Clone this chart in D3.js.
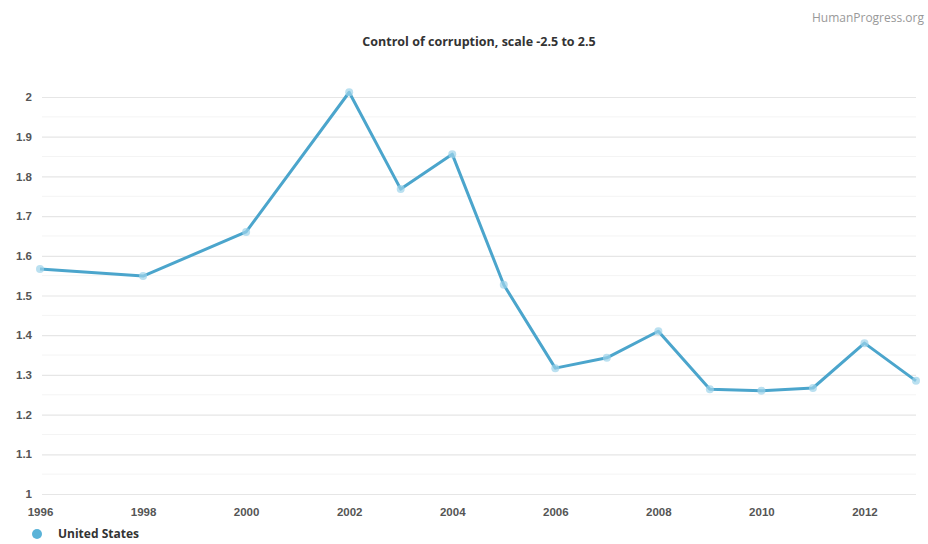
<!DOCTYPE html>
<html>
<head>
<meta charset="utf-8">
<script src="https://cdn.jsdelivr.net/npm/d3@7"></script>
<style>
  html, body { margin: 0; padding: 0; background: #fff; }
  svg { display: block; font-family: "Open Sans", sans-serif; }
</style>
</head>
<body>
<svg id="chart" width="928" height="544"></svg>
<script>
const years = [1996, 1998, 2000, 2002, 2003, 2004, 2005, 2006, 2007, 2008, 2009, 2010, 2011, 2012, 2013];
const values = [1.567, 1.549, 1.66, 2.012, 1.768, 1.856, 1.527, 1.317, 1.343, 1.41, 1.264, 1.26, 1.267, 1.38, 1.285];
const xTicks = [1996, 1998, 2000, 2002, 2004, 2006, 2008, 2010, 2012];
const yTicks = [1, 1.1, 1.2, 1.3, 1.4, 1.5, 1.6, 1.7, 1.8, 1.9, 2];
const minorTicks = [1.05, 1.15, 1.25, 1.35, 1.45, 1.55, 1.65, 1.75, 1.85, 1.95];
const seriesName = "United States";
const title = "Control of corruption, scale -2.5 to 2.5";
const credit = "HumanProgress.org";

const svg = d3.select("#chart");
const x = d3.scaleLinear().domain([1996, 2013]).range([40, 916]);
const y = d3.scaleLinear().domain([1, 2]).range([494, 97]);
const color = "#4ba5cc";

// minor gridlines
svg.append("g").selectAll("line").data(minorTicks).join("line")
  .attr("x1", 42).attr("x2", 916)
  .attr("y1", d => y(d)).attr("y2", d => y(d))
  .attr("stroke", "#f4f4f4").attr("stroke-width", 1);

// y axis with gridlines
const yAxis = svg.append("g")
  .attr("transform", "translate(42,0)")
  .call(d3.axisRight(y).tickValues(yTicks).tickSize(874).tickFormat(d3.format("~g")));
yAxis.select(".domain").remove();
yAxis.selectAll(".tick line").attr("stroke", "#e6e6e6").attr("stroke-width", 1.2);
yAxis.selectAll(".tick text")
  .attr("x", -10).attr("text-anchor", "end").attr("dy", "0.32em")
  .attr("fill", "#555").style("font-size", "11.5px").style("font-weight", "700");

// x axis
const xAxis = svg.append("g")
  .attr("transform", "translate(0,500)")
  .call(d3.axisBottom(x).tickValues(xTicks).tickSize(0).tickFormat(d3.format("d")));
xAxis.select(".domain").remove();
xAxis.selectAll(".tick text")
  .attr("y", 12).attr("dy", "0.32em")
  .attr("fill", "#555").style("font-size", "11.5px").style("font-weight", "700");

const data = years.map((yr, i) => ({ yr, v: values[i] }));

// line
svg.append("path").datum(data)
  .attr("fill", "none").attr("stroke", color).attr("stroke-width", 3)
  .attr("stroke-linejoin", "round")
  .attr("d", d3.line().x(d => x(d.yr)).y(d => y(d.v)));

// markers
svg.append("g").selectAll("circle").data(data).join("circle")
  .attr("cx", d => x(d.yr)).attr("cy", d => y(d.v)).attr("r", 4)
  .attr("fill", "#9dd3ea").attr("fill-opacity", 0.7);

// title
svg.append("text").attr("x", 479).attr("y", 46).attr("text-anchor", "middle")
  .attr("fill", "#333").style("font-size", "12.5px").style("font-weight", "700")
  .text(title);

// credit
svg.append("text").attr("x", 924).attr("y", 22).attr("text-anchor", "end")
  .attr("fill", "#999").style("font-size", "12px")
  .text(credit);

// legend
svg.append("circle").attr("cx", 37).attr("cy", 534).attr("r", 5).attr("fill", "#5ab3d8");
svg.append("text").attr("x", 58).attr("y", 534).attr("dy", "0.35em")
  .attr("fill", "#333").style("font-size", "12px").style("font-weight", "700")
  .text(seriesName);
</script>
</body>
</html>
